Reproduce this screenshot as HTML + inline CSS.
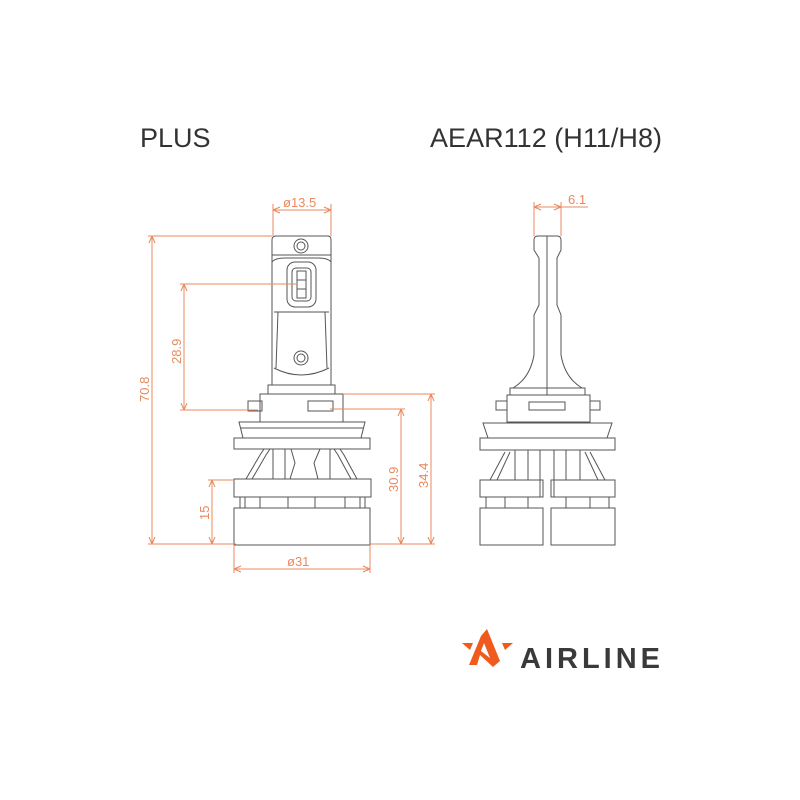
<!DOCTYPE html>
<html><head><meta charset="utf-8"><style>
html,body{margin:0;padding:0;background:#fff;}
svg{display:block}
</style></head><body>
<svg width="800" height="800" viewBox="0 0 800 800" xmlns="http://www.w3.org/2000/svg">
<rect width="800" height="800" fill="#fff"/>
<text x="140" y="147" font-family="Liberation Sans, sans-serif" font-size="27" fill="#333">PLUS</text>
<text x="430" y="147" font-family="Liberation Sans, sans-serif" font-size="27" fill="#333" textLength="232">AEAR112 (H11/H8)</text>

<!-- LEFT BULB drawing -->
<g fill="none" stroke="#555" stroke-width="1">
  <path d="M272 240 Q272 236 276 236 L328 236 Q331 236 331 240 L331 385 L272 385 Z"/>
  <path d="M272 255 L331 255"/>
  <circle cx="301" cy="246" r="7"/><circle cx="301" cy="246" r="4"/>
  <path d="M272 262 Q275 258 285 258 L318 258 Q328 258 331 262"/>
  <rect x="287" y="262" width="29" height="45" rx="8"/>
  <rect x="292" y="268" width="19" height="33" rx="4"/>
  <rect x="297" y="271" width="9" height="27"/>
  <path d="M297 280 L306 280 M297 289 L306 289"/>
  <path d="M274 312 L329 312 M278 312 L276 368 M325 312 L327 368"/>
  <path d="M274 368 Q301 382 329 368"/>
  <circle cx="301" cy="358" r="7"/><circle cx="301" cy="358" r="4"/>
  <path d="M268 385 L335 385 L335 394 L268 394 Z"/>
  <rect x="260" y="394" width="83" height="28"/>
  <rect x="248" y="401" width="14" height="10"/>
  <rect x="308" y="401" width="25" height="10"/>
  <path d="M239 422 L365 422 L361 438 L243 438 Z"/>
  <path d="M241 428 L363 428"/>
  <rect x="234" y="438" width="136" height="11"/>
  <path d="M246 479 L260 455 L264 449 M252 479 L266 455 L270 449"/>
  <path d="M357 479 L344 455 L340 449 M351 479 L338 455 L334 449"/>
  <path d="M273 449 L273 479 M285 449 L285 479 M291 449 L295 463 L290 479 M320 449 L314 463 L318 479 M330 449 L330 479"/>
  <rect x="234" y="479" width="137" height="18"/>
  <path d="M240 497 L240 508 M245 497 L245 508 M260 497 L260 508 M288 497 L288 508 M315 497 L315 508 M345 497 L345 508 M360 497 L360 508 M365 497 L365 508"/>
  <rect x="234" y="508" width="136" height="37"/>
</g>

<!-- RIGHT BULB drawing -->
<g fill="none" stroke="#555" stroke-width="1">
  <path d="M534 240 Q534 236 538 236 L557 236 Q561 236 561 240 L561 250 L557 258 L557 305 L561 315 L561 355 Q565 378 582 388 L513 388 Q530 378 534 355 L534 315 L539 305 L539 258 L534 250 Z"/>
  <path d="M547 236 L547 395"/>
  <path d="M510 388 L585 388 L585 395 L510 395 Z"/>
  <rect x="507" y="395" width="83" height="27"/>
  <rect x="496" y="401" width="11" height="9"/>
  <rect x="590" y="401" width="10" height="9"/>
  <path d="M529 402 L565 402 L565 410 L529 410 Z"/>
  <path d="M483 423 L612 423 L607 438 L488 438 Z"/>
  <rect x="480" y="438" width="135" height="12"/>
  <path d="M490 480 L505 452 M497 480 L510 452 M605 480 L590 452 M598 480 L585 452"/>
  <path d="M515 450 L515 480 M528 450 L528 480 M540 450 L540 497 M554 450 L554 497 M566 450 L566 480 M580 450 L580 480"/>
  <rect x="480" y="480" width="63" height="17"/>
  <rect x="551" y="480" width="64" height="17"/>
  <path d="M486 497 L486 508 M505 497 L505 508 M528 497 L528 508 M566 497 L566 508 M590 497 L590 508 M609 497 L609 508"/>
  <rect x="480" y="508" width="63" height="37"/>
  <rect x="551" y="508" width="64" height="37"/>
</g>

<!-- DIMENSIONS -->
<g fill="none" stroke="#e8895e" stroke-width="1">
  <path d="M273 204 L273 236 M331 204 L331 236 M273 210 L331 210"/>
  <path d="M273 210 l7 -3 M273 210 l7 3 M331 210 l-7 -3 M331 210 l-7 3"/>
  <path d="M148 236 L272 236 M152 236 L152 544 M148 544 L236 544"/>
  <path d="M152 236 l-3 7 M152 236 l3 7 M152 544 l-3 -7 M152 544 l3 -7"/>
  <path d="M180 284 L298 284 M184 284 L184 410 M180 410 L258 410"/>
  <path d="M184 284 l-3 7 M184 284 l3 7 M184 410 l-3 -7 M184 410 l3 -7"/>
  <path d="M208 480 L234 480 M212 480 L212 544"/>
  <path d="M212 480 l-3 7 M212 480 l3 7 M212 544 l-3 -7 M212 544 l3 -7"/>
  <path d="M330 409 L405 409 M401 409 L401 544 M370 544 L435 544"/>
  <path d="M401 409 l-3 7 M401 409 l3 7 M401 544 l-3 -7 M401 544 l3 -7"/>
  <path d="M343 394 L435 394 M431 394 L431 544"/>
  <path d="M431 394 l-3 7 M431 394 l3 7 M431 544 l-3 -7 M431 544 l3 -7"/>
  <path d="M234 545 L234 573 M370 545 L370 573 M234 569 L370 569"/>
  <path d="M234 569 l7 -3 M234 569 l7 3 M370 569 l-7 -3 M370 569 l-7 3"/>
  <path d="M534 202 L534 236 M561 202 L561 236 M534 207 L588 207"/>
  <path d="M534 207 l7 -3 M534 207 l7 3 M561 207 l-7 -3 M561 207 l-7 3"/>
</g>
<g font-family="Liberation Sans, sans-serif" font-size="13" fill="#e8895e">
  <text x="283" y="207">ø13.5</text>
  <text x="287" y="566">ø31</text>
  <text x="568" y="204">6.1</text>
  <text transform="translate(149 402) rotate(-90)">70.8</text>
  <text transform="translate(181 364) rotate(-90)">28.9</text>
  <text transform="translate(209 520) rotate(-90)">15</text>
  <text transform="translate(398 492) rotate(-90)">30.9</text>
  <text transform="translate(428 488) rotate(-90)">34.4</text>
</g>

<!-- LOGO -->
<g>
  <path d="M487 629 L500 661 L493 667 L480 655 L477 665 L469 665 L481 636 Z" fill="#f05a1e"/>
  <path d="M481 651 L484 643 L490 658 Z" fill="#fff"/>
  <path d="M462 643 L473 643 L470 650 Z M513 643 L502 643 L505 650 Z" fill="#f05a1e"/>
  <text x="520" y="668" font-family="Liberation Sans, sans-serif" font-weight="bold" font-size="29" fill="#3a3a3a" textLength="140" lengthAdjust="spacing">AIRLINE</text>
</g>
</svg>
</body></html>
